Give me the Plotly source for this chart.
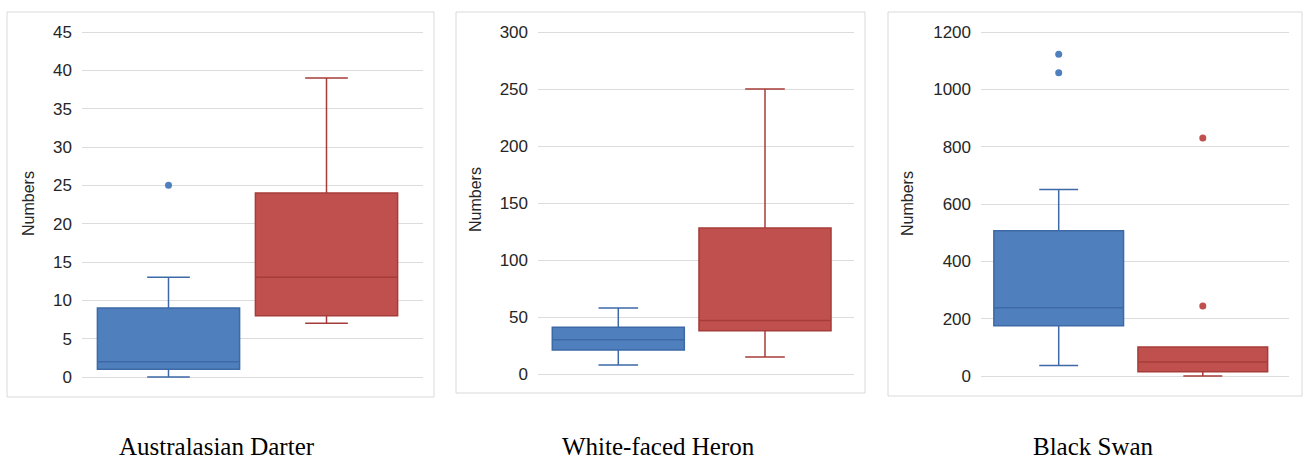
import plotly.graph_objects as go

W, H = 1304, 460

# ---------------- data ----------------
panel_titles = ["Australasian Darter", "White-faced Heron", "Black Swan"]

# per panel: [blue, red] box stats
q1_vals = [[1, 8], [21, 38], [175, 15]]
median_vals = [[2, 13], [30, 47], [238, 49]]
q3_vals = [[9, 24], [41, 128], [507, 101]]
low_vals = [[0, 7], [8, 15], [37, 0]]
high_vals = [[13, 39], [58, 250], [651, 101]]
outliers = [[[25], []], [[], []], [[1122, 1058], [830, 244]]]

y_ticks = [
    [0, 5, 10, 15, 20, 25, 30, 35, 40, 45],
    [0, 50, 100, 150, 200, 250, 300],
    [0, 200, 400, 600, 800, 1000, 1200],
]
y_label = "Numbers"

# ---------------- styling / layout ----------------
fill_cols = ["#4F7FBC", "#C0504D"]
line_cols = ["#3D6AA6", "#A63C39"]
grid_col = "#DCDCDC"
border_col = "#D9D9D9"

# pixel geometry per panel
plot_x = [(82, 423), (538, 854), (981, 1289)]
plot_ytop = [32, 32, 32]
plot_ybot = [377, 374, 376]
centers = [(168.5, 326.5), (618.3, 765.0), (1058.7, 1202.8)]
borders = [(7, 12, 434, 397), (456, 12, 865, 393), (888, 12, 1302, 396)]
ylabel_x = [28, 476, 907]
ylabel_y = [204, 200, 204]
title_x = [217, 658, 1093]
title_y = 446

fig = go.Figure()
layout = dict(
    width=W, height=H, margin=dict(l=0, r=0, t=0, b=0, pad=0),
    paper_bgcolor="white", plot_bgcolor="white", showlegend=False,
    shapes=[], annotations=[], template="none",
)

pad = 4
for p in range(3):
    ax = "" if p == 0 else str(p + 1)
    xl, xr = plot_x[p]
    cb, cr = centers[p]
    unit = cr - cb
    xrange = [(xl - cb) / unit, (xr - cb) / unit]
    vmax = y_ticks[p][-1]
    top, bot = plot_ytop[p], plot_ybot[p]
    s = (bot - top) / vmax
    yrange = [-pad / s, vmax + pad / s]
    ydom = [1 - (bot + pad) / H, 1 - (top - pad) / H]
    xdom = [xl / W, xr / W]

    layout["xaxis" + ax] = dict(
        domain=xdom, range=xrange, showticklabels=False, showgrid=False,
        zeroline=False, showline=False, ticks="", anchor="y" + ax,
        fixedrange=True, automargin=False,
    )
    layout["yaxis" + ax] = dict(
        domain=ydom, range=yrange, tickvals=y_ticks[p],
        ticktext=[str(v) for v in y_ticks[p]],
        showgrid=True, gridcolor=grid_col, gridwidth=1, zeroline=False,
        showline=False, ticks="", anchor="x" + ax, ticklabelstandoff=9,
        tickfont=dict(family="Liberation Sans, Arial", size=17, color="#262626"),
        fixedrange=True, automargin=False,
    )

    for k in range(2):
        fig.add_trace(go.Box(
            x=[k], q1=[q1_vals[p][k]], median=[median_vals[p][k]],
            q3=[q3_vals[p][k]], lowerfence=[low_vals[p][k]],
            upperfence=[high_vals[p][k]], width=0.9, whiskerwidth=0.3,
            fillcolor=fill_cols[k], line=dict(color=line_cols[k], width=1.5),
            boxpoints=False, xaxis="x" + ax, yaxis="y" + ax, hoverinfo="y",
        ))
        if outliers[p][k]:
            fig.add_trace(go.Scatter(
                x=[k] * len(outliers[p][k]), y=outliers[p][k], mode="markers",
                marker=dict(color=fill_cols[k], size=7),
                xaxis="x" + ax, yaxis="y" + ax,
            ))

    bx0, by0, bx1, by1 = borders[p]
    layout["shapes"].append(dict(
        type="rect", xref="paper", yref="paper",
        x0=bx0 / W, x1=bx1 / W, y0=1 - by1 / H, y1=1 - by0 / H,
        line=dict(color=border_col, width=1), fillcolor="rgba(0,0,0,0)",
        layer="below",
    ))
    layout["annotations"].append(dict(
        text=y_label, textangle=-90, xref="paper", yref="paper",
        x=ylabel_x[p] / W, y=1 - ylabel_y[p] / H, xanchor="center",
        yanchor="middle", showarrow=False,
        font=dict(family="Liberation Sans, Arial", size=16, color="#262626"),
    ))
    layout["annotations"].append(dict(
        text=panel_titles[p], xref="paper", yref="paper",
        x=title_x[p] / W, y=1 - title_y / H, xanchor="center",
        yanchor="middle", showarrow=False,
        font=dict(family="Liberation Serif, Times New Roman", size=25, color="black"),
    ))

fig.update_layout(**layout)
fig.write_html("out.html")
